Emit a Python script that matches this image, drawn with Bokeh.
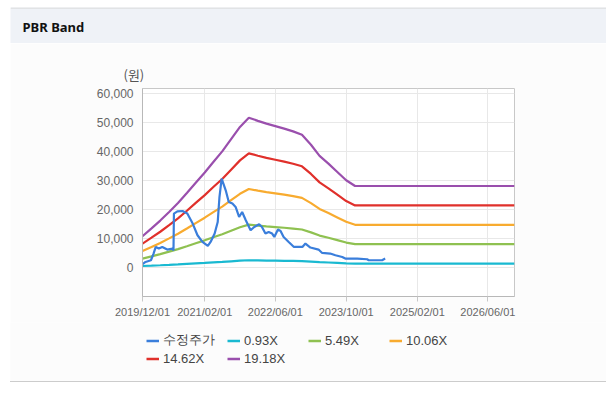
from datetime import datetime
import pandas as pd
from bokeh.plotting import figure
from bokeh.models import (Range1d, FixedTicker, DatetimeTickFormatter, NumeralTickFormatter,
                          Legend, LegendItem, Label, Span, Spacer)
from bokeh.layouts import column, row
from bokeh.embed import file_html
from bokeh.resources import INLINE

# ---------------- data ----------------
band_dates = ["2019-12-01", "2020-02-01", "2020-04-01", "2020-06-01", "2020-08-01", "2020-10-01",
              "2020-12-01", "2021-02-01", "2021-04-01", "2021-06-01", "2021-08-01", "2021-10-01",
              "2021-12-01", "2022-02-01", "2022-04-01", "2022-06-01", "2022-08-01", "2022-10-01",
              "2022-12-01", "2023-02-01", "2023-04-01", "2023-06-01", "2023-08-01", "2023-10-01",
              "2023-12-01", "2026-12-01"]
band_093 = [524, 656, 786, 930, 1079, 1246, 1418, 1590, 1767, 1944, 2148, 2353, 2506, 2455, 2409,
            2367, 2325, 2279, 2223, 2055, 1869, 1739, 1600, 1460, 1364, 1364]
band_549 = [3091, 3870, 4639, 5490, 6368, 7357, 8372, 9388, 10431, 11474, 12682, 13890, 14796,
            14494, 14219, 13972, 13725, 13451, 13121, 12133, 11035, 10266, 9443, 8619, 8054, 8054]
band_1006 = [5664, 7092, 8501, 10060, 11670, 13480, 15342, 17203, 19114, 21025, 23239, 25452,
             27112, 26558, 26055, 25603, 25150, 24647, 24043, 22233, 20221, 18812, 17303, 15794,
             14758, 14758]
band_1462 = [8231, 10307, 12354, 14620, 16959, 19591, 22296, 25000, 27778, 30556, 33772, 36989,
             39401, 38597, 37866, 37208, 36550, 35819, 34942, 32310, 29386, 27339, 25146, 22953,
             21448, 21448]
band_1918 = [10798, 13522, 16207, 19180, 22249, 25701, 29250, 32798, 36442, 40086, 44306, 48525,
             51690, 50635, 49676, 48813, 47950, 46991, 45840, 42388, 38552, 35867, 32990, 30113,
             28137, 28137]

price_dates = ["2019-12-01", "2019-12-22", "2020-01-28", "2020-02-15", "2020-03-01", "2020-03-22",
               "2020-04-15", "2020-05-19", "2020-06-25", "2020-07-01", "2020-07-04", "2020-07-28",
               "2020-09-01", "2020-10-04", "2020-11-10", "2020-12-13", "2021-01-16", "2021-02-22",
               "2021-03-13", "2021-04-10", "2021-05-01", "2021-05-13", "2021-05-28", "2021-06-25",
               "2021-07-16", "2021-08-10", "2021-09-01", "2021-09-25", "2021-10-16", "2021-11-10",
               "2021-12-13", "2022-01-07", "2022-02-10", "2022-03-01", "2022-03-25", "2022-04-16",
               "2022-05-10", "2022-05-25", "2022-06-19", "2022-07-07", "2022-07-28", "2022-09-01",
               "2022-10-07", "2022-12-04", "2022-12-25", "2023-01-28", "2023-03-25", "2023-04-19",
               "2023-06-13", "2023-07-19", "2023-09-04", "2023-09-25", "2023-12-16", "2024-02-22",
               "2024-03-04", "2024-06-04", "2024-06-16", "2024-06-25"]
price_vals = [1140, 1930, 2520, 4830, 7100, 6550, 7100, 6200, 6550, 5900, 18620, 19400,
              19520, 18620, 15170, 11140, 8830, 7450, 8830, 11720, 15720, 24340, 30690, 26650,
              22620, 22070, 20900, 17450, 19170, 16310, 12860, 14000, 14930, 14000, 11720, 12280,
              11720, 10550, 13100, 12620, 10550, 8830, 7100, 7100, 8270, 6900, 6200, 5030,
              4830, 4240, 3650, 3100, 3100, 2860, 2520, 2520, 2860, 3100]

x_tick_dates = ["2019-12-01", "2021-02-01", "2022-06-01", "2023-10-01", "2025-02-01", "2026-06-01"]
y_ticks = [0, 10000, 20000, 30000, 40000, 50000, 60000]

series = [
    ("0.93X", band_093, "#19b9d1"),
    ("5.49X", band_549, "#8fc151"),
    ("10.06X", band_1006, "#f8ab2f"),
    ("14.62X", band_1462, "#e0302b"),
    ("19.18X", band_1918, "#9a4fad"),
]
price_label = "수정주가"
price_color = "#3a7edb"

CARD = "#fcfcfc"

# ---------------- header ----------------
header = figure(width=606, height=43, x_range=Range1d(0, 596), y_range=Range1d(0, 36),
                min_border_left=10, min_border_right=0, min_border_top=7, min_border_bottom=0,
                toolbar_location=None, output_backend="svg",
                x_axis_type=None, y_axis_type=None)
header.frame_align = False
header.grid.visible = False
header.outline_line_color = None
header.background_fill_color = "#eff2f7"
header.border_fill_color = "#ffffff"
header.add_layout(Label(x=12, y=17, text="PBR Band", text_baseline="middle",
                        text_font="Noto Sans", text_font_size="13px", text_font_style="bold",
                        text_color="#111111"))
header.add_layout(Span(location=35.5, dimension="width", line_color="#d4d4d4", line_width=1))

# ---------------- main chart ----------------
bd = pd.to_datetime(band_dates)
pdates = pd.to_datetime(price_dates)

p = figure(width=596, height=279, x_axis_type="datetime",
           x_range=Range1d(datetime(2019, 12, 1), datetime(2026, 12, 1)),
           y_range=Range1d(-10000, 61800),
           min_border_left=132, min_border_right=92, min_border_top=45, min_border_bottom=26,
           toolbar_location=None, output_backend="svg", title="(원)")
p.frame_align = False
p.background_fill_color = "#ffffff"
p.border_fill_color = CARD
p.outline_line_color = "#c8c8c8"

p.title.align = "left"
p.title.offset = -19
p.title.text_font = "Noto Sans CJK KR"
p.title.text_font_size = "13px"
p.title.text_font_style = "normal"
p.title.text_color = "#555555"
p.title.standoff = 10

renderers = {}
for name, vals, col in series:
    renderers[name] = p.line(bd, vals, line_color=col, line_width=2.2)
renderers[price_label] = p.line(pdates, price_vals, line_color=price_color, line_width=2.2)

tick_ms = [pd.Timestamp(d).value / 1e6 for d in x_tick_dates]
p.xaxis.ticker = FixedTicker(ticks=tick_ms)
fmt = "%Y/%m/%d"
p.xaxis.formatter = DatetimeTickFormatter(microseconds=fmt, milliseconds=fmt, seconds=fmt,
                                          minsec=fmt, minutes=fmt, hourmin=fmt, hours=fmt,
                                          days=fmt, months=fmt, years=fmt, context=None)
p.yaxis.ticker = FixedTicker(ticks=y_ticks)
p.yaxis.formatter = NumeralTickFormatter(format="0,0")

for ax in (p.xaxis, p.yaxis):
    ax.axis_line_color = "#b8b8b8"
    ax.major_tick_line_color = "#c8c8c8"
    ax.minor_tick_line_color = None
    ax.major_tick_in = 0
    ax.major_label_text_color = "#666666"
    ax.major_label_text_font = "Liberation Sans"
p.xaxis.major_tick_out = 5
p.xaxis.major_label_standoff = 4
p.xaxis.major_label_text_font_size = "11px"
p.yaxis.major_tick_out = 0
p.yaxis.major_label_standoff = 9
p.yaxis.major_label_text_font_size = "12px"

p.xgrid.grid_line_color = "#e8e8e8"
p.ygrid.grid_line_color = "#e8e8e8"

# ---------------- legend panel ----------------
# the legend lives in its own strip; its proxy lines reuse the series but fall outside its view
lg = figure(width=596, height=59, x_range=Range1d(0, 1), y_range=Range1d(0, 1),
            min_border=0, toolbar_location=None, output_backend="svg",
            x_axis_type=None, y_axis_type=None)
lg.frame_align = False
lg.grid.visible = False
lg.outline_line_color = None
lg.background_fill_color = CARD
lg.border_fill_color = CARD

proxies = {price_label: lg.line(pdates, price_vals, line_color=price_color, line_width=2.5)}
for name, vals, col in series:
    proxies[name] = lg.line(bd, vals, line_color=col, line_width=2.5)

items = [LegendItem(label=price_label, renderers=[proxies[price_label]])]
for name, _, _ in series:
    items.append(LegendItem(label=name, renderers=[proxies[name]]))
legend = Legend(items=items, location=(136, 15), orientation="horizontal", ncols=4,
                padding=0, margin=0, spacing=2, glyph_width=13, glyph_height=13,
                label_standoff=4, label_width=62, label_height=13,
                label_text_font="Liberation Sans", label_text_font_size="13px",
                label_text_color="#444444", border_line_color=None, background_fill_alpha=0)
lg.add_layout(legend, "center")

left_pad = Spacer(width=10, height=338)
bottom_line = row(Spacer(width=10, height=1),
                  Spacer(width=596, height=1, styles={"background-color": "#cccccc"}),
                  spacing=0)

layout = column(header, row(left_pad, column(p, lg, spacing=0), spacing=0), bottom_line,
                spacing=0)
open("out.html", "w").write(file_html(layout, INLINE))
